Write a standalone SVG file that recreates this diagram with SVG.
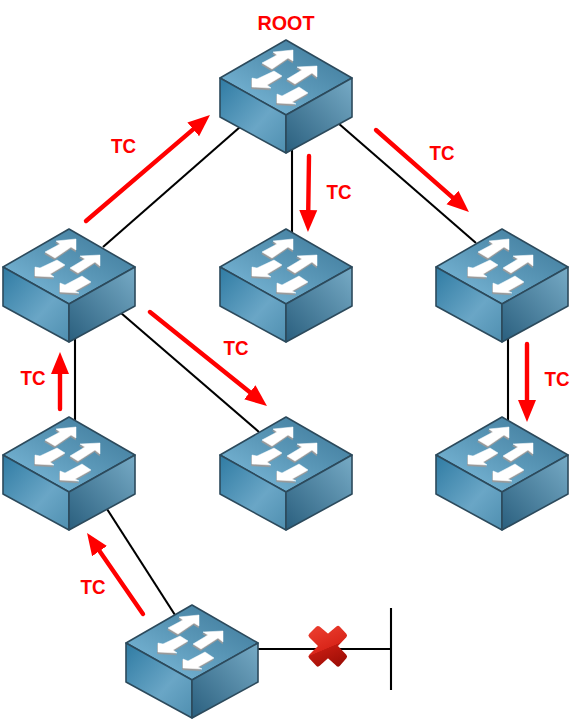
<svg xmlns="http://www.w3.org/2000/svg" width="582" height="724" viewBox="0 0 582 724">
<style>
.lnk{stroke:#000;stroke-width:2.1;fill:none}
.tc{stroke:#f00;stroke-width:4.4;fill:none;stroke-linecap:round;marker-end:url(#ah)}
text{font-family:"Liberation Sans",Arial,sans-serif;font-weight:bold;font-size:21px;fill:#f00;text-anchor:middle}
.edge{stroke:#2c4a5c;stroke-width:1.6;stroke-linejoin:round}
</style>
<defs>
<marker id="ah" markerUnits="userSpaceOnUse" markerWidth="24" markerHeight="20" refX="11" refY="10" orient="auto"><path d="M0 1L22 10L0 19Z" fill="#f00"/></marker>
<linearGradient id="top" x1="0" y1="1" x2="1" y2="0"><stop offset="0" stop-color="#82c0e0"/><stop offset=".5" stop-color="#5b98b8"/><stop offset="1" stop-color="#3a7596"/></linearGradient>
<linearGradient id="lf" x1="0" y1="0" x2="1" y2="1"><stop offset="0" stop-color="#2f7ba3"/><stop offset=".6" stop-color="#6aa6c6"/><stop offset="1" stop-color="#4f8fb0"/></linearGradient>
<linearGradient id="rf" x1="0" y1="1" x2="1" y2="0"><stop offset="0" stop-color="#2a5f7e"/><stop offset="1" stop-color="#77abc6"/></linearGradient>
<linearGradient id="xg" gradientUnits="userSpaceOnUse" x1="321.7" y1="629.1" x2="337.3" y2="665.9"><stop offset="0" stop-color="#e8392b"/><stop offset=".49" stop-color="#d9261a"/><stop offset=".5" stop-color="#c01a10"/><stop offset="1" stop-color="#9e0e06"/></linearGradient>
<path id="wa" stroke-width=".5" stroke-linejoin="round" d="M-24 23L-9 15L-13 12L7 10L7 21L2 18L-14 29Z M-34 47L-34 38L-29 39L-12 31L-4 36L-19 45L-15 48Z M1 39L16 30L11 27L31 26L31 37L26 33L9 44Z M-9 63L-9 54L-4 56L13 47L22 53L6 62L10 64Z"/>
<g id="sw">
<path class="edge" d="M0 0L66 38L0 75L-66 38Z" fill="url(#top)"/>
<path class="edge" d="M-66 38L0 75L0 113L-66 77Z" fill="url(#lf)"/>
<path class="edge" d="M66 38L0 75L0 113L66 77Z" fill="url(#rf)"/>
<use href="#wa" x="-.5" y="1.800" fill="#9a9a9a" stroke="#9a9a9a"/>
<use href="#wa" fill="#fff" stroke="#fff"/>
</g>
</defs>
<g id="connectors">
<path class="lnk" d="M240 127L103 247"/>
<path class="lnk" d="M292 150V232"/>
<path class="lnk" d="M338 123L476 243"/>
<path class="lnk" d="M75 338V420"/>
<path class="lnk" d="M121 313L259 432"/>
<path class="lnk" d="M508 338V420"/>
<path class="lnk" d="M107 509L175 615"/>
<path class="lnk" d="M256 649H391"/>
<path class="lnk" d="M391 608V690"/>
</g>
<g id="root"><use href="#sw" x="286" y="40"/><text x="286" y="30" textLength="57" lengthAdjust="spacingAndGlyphs">ROOT</text></g>
<g id="sw-a"><use href="#sw" x="69" y="229"/></g>
<g id="sw-b"><use href="#sw" x="286" y="229"/></g>
<g id="sw-c"><use href="#sw" x="502" y="229"/></g>
<g id="sw-d"><use href="#sw" x="69" y="417"/></g>
<g id="sw-e"><use href="#sw" x="286" y="417"/></g>
<g id="sw-f"><use href="#sw" x="502" y="417"/></g>
<g id="sw-g"><use href="#sw" x="192" y="605"/></g>
<g id="blocked">
<path d="M328 637L338 628.500L344.500 635.500L334.500 646L344.500 656.500L338 664L328 655L318 664L311 656.500L321.500 646L311 635.500L318 628.500Z" fill="url(#xg)" stroke="url(#xg)" stroke-width="5" stroke-linejoin="round"/>
</g>
<g id="tc-arrows">
<path class="tc" d="M86 221L201.600 122.200"/>
<path class="tc" d="M309 156L308.100 221"/>
<path class="tc" d="M376 130L460.700 204.700"/>
<path class="tc" d="M150 312L258.400 399.100"/>
<path class="tc" d="M60 409V363"/>
<path class="tc" d="M527 344V411"/>
<path class="tc" d="M143 614L93.300 542"/>
</g>
<g id="labels" lengthAdjust="spacingAndGlyphs">
<text x="123.500" y="152.500" textLength="25" lengthAdjust="spacingAndGlyphs">TC</text>
<text x="339" y="199" textLength="25" lengthAdjust="spacingAndGlyphs">TC</text>
<text x="442" y="160" textLength="25" lengthAdjust="spacingAndGlyphs">TC</text>
<text x="236" y="355" textLength="25" lengthAdjust="spacingAndGlyphs">TC</text>
<text x="33" y="385" textLength="25" lengthAdjust="spacingAndGlyphs">TC</text>
<text x="557" y="386" textLength="25" lengthAdjust="spacingAndGlyphs">TC</text>
<text x="93" y="594" textLength="25" lengthAdjust="spacingAndGlyphs">TC</text>
</g>
</svg>
